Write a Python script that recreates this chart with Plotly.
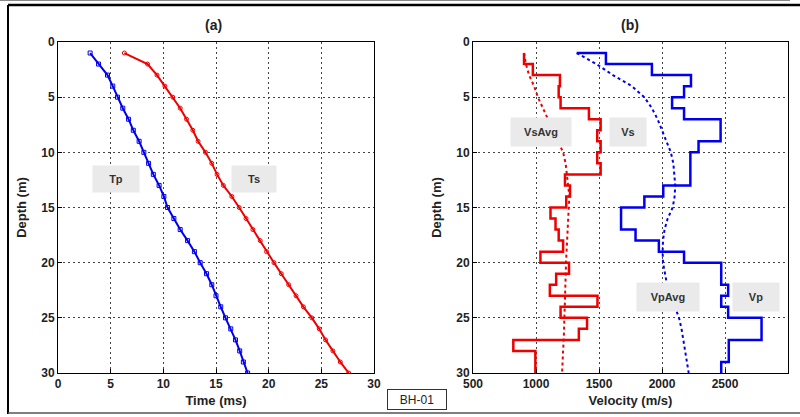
import plotly.graph_objects as go

W, H = 800, 417

# Depth stations (m)
depth = list(range(1, 31))

# First-arrival travel times (ms)
tp = [3.05, 3.85, 4.7, 5.2, 5.65, 6.15, 6.7, 7.15, 7.7, 8.15,
      8.6, 9.05, 9.6, 10.05, 10.4, 11.0, 11.6, 12.3, 12.95, 13.5,
      14.1, 14.6, 15.0, 15.45, 15.9, 16.4, 16.85, 17.25, 17.6, 18.0]
ts = [6.3, 8.5, 9.4, 10.15, 10.9, 11.6, 12.2, 12.8, 13.3, 14.0,
      14.6, 15.1, 15.7, 16.5, 17.2, 17.85, 18.5, 19.2, 19.8, 20.5,
      21.2, 21.9, 22.6, 23.3, 24.1, 24.8, 25.4, 26.1, 26.8, 27.6]

# Interval velocities (m/s), value at depth d applies to the layer ending at d
vs = [905, 905, 975, 1190, 1180, 1195, 1420, 1513, 1486, 1513,
      1486, 1513, 1230, 1270, 1240, 1115, 1155, 1180, 1215, 1035,
      1262, 1160, 1110, 1488, 1195, 1405, 1340, 820, 995, 995]
vp = [1323, 1555, 1920, 2230, 2175, 2080, 2175, 2465, 2465, 2290,
      2225, 2225, 2225, 2010, 1860, 1675, 1675, 1790, 1975, 2175,
      2470, 2470, 2525, 2470, 2525, 2790, 2790, 2530, 2530, 2470]

# Average velocities (m/s)
vs_avg = [905, 920, 945, 985, 1015, 1055, 1095, 1140, 1180, 1215,
          1235, 1245, 1255, 1265, 1260, 1255, 1250, 1246, 1242, 1238,
          1236, 1234, 1232, 1230, 1228, 1225, 1220, 1215, 1210, 1207]
vp_avg = [1323, 1480, 1610, 1760, 1860, 1920, 1965, 2000, 2035, 2070,
          2090, 2100, 2105, 2100, 2085, 2045, 2020, 2008, 2005, 2008,
          2025, 2040, 2070, 2105, 2135, 2155, 2170, 2185, 2200, 2212]

time_ticks = [0, 5, 10, 15, 20, 25, 30]
vel_ticks = [500, 1000, 1500, 2000, 2500, 3000]
depth_ticks = [0, 5, 10, 15, 20, 25, 30]

FONT = "Liberation Sans"
BLUE = "#0000ee"
RED = "#ee0000"


def px(x):
    return x / W


def py(y):
    return 1 - y / H


fig = go.Figure()

fig.add_trace(go.Scatter(x=tp, y=depth, mode="lines+markers", name="Tp",
                         line=dict(color=BLUE, width=2),
                         marker=dict(symbol="square-open", size=4, color=BLUE, line=dict(width=1)),
                         xaxis="x", yaxis="y"))
fig.add_trace(go.Scatter(x=ts, y=depth, mode="lines+markers", name="Ts",
                         line=dict(color=RED, width=2),
                         marker=dict(symbol="circle-open", size=4, color=RED, line=dict(width=1)),
                         xaxis="x", yaxis="y"))

fig.add_trace(go.Scatter(x=vs, y=depth, mode="lines", name="Vs", line_shape="hv",
                         line=dict(color=RED, width=2.5), xaxis="x2", yaxis="y2"))
fig.add_trace(go.Scatter(x=vs_avg, y=depth, mode="lines", name="VsAvg",
                         line=dict(color=RED, width=2, dash="dot"), xaxis="x2", yaxis="y2"))
fig.add_trace(go.Scatter(x=vp, y=depth, mode="lines", name="Vp", line_shape="hv",
                         line=dict(color=BLUE, width=2.5), xaxis="x2", yaxis="y2"))
fig.add_trace(go.Scatter(x=vp_avg, y=depth, mode="lines", name="VpAvg",
                         line=dict(color=BLUE, width=2, dash="dot"), xaxis="x2", yaxis="y2"))

tick_font = dict(family=FONT, size=12, color="#222", weight="bold")
title_font = dict(family=FONT, size=13, color="#222", weight="bold")

axis_common = dict(showline=True, mirror=True, linecolor="black", linewidth=1,
                   ticks="inside", ticklen=4, tickcolor="black",
                   showgrid=True, gridcolor="#444", gridwidth=1, griddash="2px,3px",
                   zeroline=False, tickfont=tick_font, automargin=False)

y_dom = [py(373), py(42)]

fig.update_layout(
    width=W, height=H,
    margin=dict(l=0, r=0, t=0, b=0),
    paper_bgcolor="white", plot_bgcolor="white",
    showlegend=False,
    xaxis=dict(domain=[px(58), px(374)], range=[0, 30], tickvals=time_ticks,
               title=dict(text="Time (ms)", font=title_font, standoff=5),
               anchor="y", **axis_common),
    yaxis=dict(domain=y_dom, range=[30, 0], tickvals=depth_ticks,
               title=dict(text="Depth (m)", font=title_font, standoff=11),
               anchor="x", **axis_common),
    xaxis2=dict(domain=[px(473), px(788)], range=[500, 3000], tickvals=vel_ticks,
                title=dict(text="Velocity (m/s)", font=title_font, standoff=5),
                anchor="y2", **axis_common),
    yaxis2=dict(domain=y_dom, range=[30, 0], tickvals=depth_ticks,
                title=dict(text="Depth (m)", font=title_font, standoff=11),
                anchor="x2", **axis_common),
)

annotations = []


def panel_title(text, x):
    annotations.append(dict(text=text, x=px(x), y=py(25), xref="paper", yref="paper",
                            showarrow=False, xanchor="center", yanchor="middle",
                            font=dict(family=FONT, size=14, color="#222", weight="bold")))


panel_title("(a)", 213)
panel_title("(b)", 630)


def tag(text, cx, cy, w, h):
    annotations.append(dict(text=text, x=px(cx), y=py(cy), xref="paper", yref="paper",
                            showarrow=False, xanchor="center", yanchor="middle",
                            width=w, height=h, bgcolor="#eaeaea", borderpad=0,
                            font=dict(family=FONT, size=11, color="#333", weight="bold")))


tag("Tp", 116, 179, 46, 26)
tag("Ts", 254, 179, 44, 26)
tag("VsAvg", 541, 132, 60, 28)
tag("Vs", 628, 132, 36, 28)
tag("VpAvg", 668, 297, 62, 28)
tag("Vp", 756, 297, 46, 28)

annotations.append(dict(text="BH-01", x=px(417), y=py(399), xref="paper", yref="paper",
                        showarrow=False, xanchor="center", yanchor="middle",
                        width=58, height=19, bgcolor="white", bordercolor="#333",
                        borderwidth=1, borderpad=0,
                        font=dict(family=FONT, size=12, color="#222")))

fig.update_layout(annotations=annotations)

# Outer frame lines
fig.add_shape(type="line", xref="paper", yref="paper", x0=0, x1=px(790), y0=py(0.5), y1=py(0.5),
              line=dict(color="#888", width=1))
fig.add_shape(type="line", xref="paper", yref="paper", x0=px(8), x1=1, y0=py(5), y1=py(5),
              line=dict(color="black", width=2.5))
fig.add_shape(type="line", xref="paper", yref="paper", x0=px(8), x1=px(8), y0=py(5), y1=py(414),
              line=dict(color="black", width=2))
fig.add_shape(type="line", xref="paper", yref="paper", x0=px(8), x1=1, y0=py(413), y1=py(413),
              line=dict(color="#555", width=1.5))

fig.write_html("out.html")
